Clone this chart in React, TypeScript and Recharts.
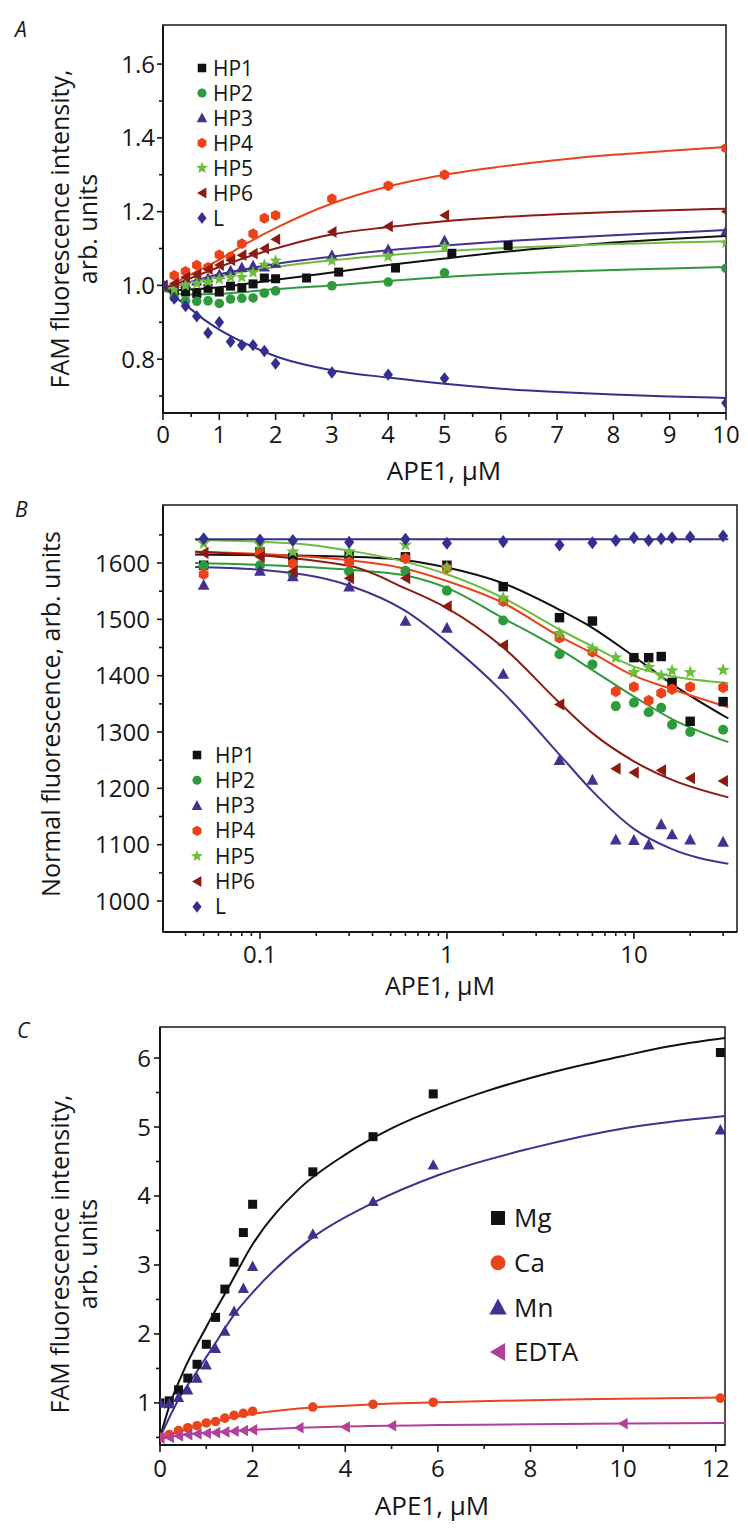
import React from "react";
import { ComposedChart, Scatter, Line, XAxis, YAxis, ReferenceArea } from "recharts";

const FONT = '"Open Sans", "DejaVu Sans", sans-serif';
const INK = "#161616";

// colours
const C_HP1 = "#111111";
const C_HP2 = "#2f9a3b";
const C_HP3 = "#46308f";
const C_HP4 = "#ec4219";
const C_HP5 = "#6dbd3d";
const C_HP6 = "#8c1c12";
const C_L = "#342f8c";
const C_MG = "#111111";
const C_CA = "#e9441d";
const C_MN = "#41308e";
const C_EDTA = "#b0409a";

// ---------- panel A (linear, APE1 0..10 uM)
const aX = [0, 0.2, 0.4, 0.6, 0.8, 1, 1.2, 1.4, 1.6, 1.8, 2, 3, 4, 5, 10];
const aHP1X = [0, 0.2, 0.4, 0.6, 0.8, 1, 1.2, 1.4, 1.6, 1.8, 2, 2.55, 3.12, 4.13, 5.13, 6.13];
const aHP1 = [1.0, 0.985, 0.982, 0.978, 0.992, 0.982, 0.998, 0.994, 1.004, 1.02, 1.018, 1.02, 1.036, 1.047, 1.087, 1.108];
const aHP2 = [1.0, 0.967, 0.958, 0.957, 0.958, 0.951, 0.963, 0.965, 0.966, 0.979, 0.985, 0.999, 1.009, 1.034, 1.046];
const aHP3 = [1.0, 0.998, 1.005, 1.012, 1.02, 1.03, 1.04, 1.049, 1.054, 1.05, 1.06, 1.082, 1.098, 1.122, 1.148];
const aHP4 = [1.0, 1.027, 1.038, 1.055, 1.049, 1.083, 1.078, 1.113, 1.14, 1.182, 1.19, 1.235, 1.27, 1.3, 1.372];
const aHP5 = [1.0, 0.99, 1.0, 1.005, 1.01, 1.017, 1.022, 1.022, 1.035, 1.056, 1.067, 1.067, 1.078, 1.105, 1.115];
const aHP6 = [1.0, 1.005, 1.022, 1.03, 1.044, 1.055, 1.068, 1.082, 1.086, 1.1, 1.125, 1.145, 1.16, 1.19, 1.2];
const aL = [1.0, 0.964, 0.944, 0.916, 0.871, 0.9, 0.847, 0.838, 0.838, 0.822, 0.788, 0.764, 0.758, 0.748, 0.681];

const aFitHP1: [number, number][] = [[0, 0.985], [1, 0.995], [2, 1.015], [3, 1.035], [4, 1.055], [5, 1.073], [6, 1.09], [7, 1.104], [8, 1.116], [9, 1.126], [10, 1.134]];
const aFitHP2: [number, number][] = [[0, 0.985], [0.5, 0.975], [1, 0.977], [1.5, 0.983], [2, 0.99], [3, 1.0], [4, 1.012], [5, 1.023], [6, 1.031], [7, 1.037], [8, 1.042], [9, 1.046], [10, 1.05]];
const aFitHP3: [number, number][] = [[0, 0.99], [0.5, 1.01], [1, 1.03], [2, 1.058], [3, 1.078], [4, 1.095], [5, 1.108], [6, 1.119], [7, 1.128], [8, 1.136], [9, 1.143], [10, 1.15]];
const aFitHP4: [number, number][] = [[0, 0.99], [0.5, 1.03], [1, 1.07], [1.5, 1.115], [2, 1.155], [3, 1.222], [4, 1.268], [5, 1.3], [6, 1.322], [7, 1.34], [8, 1.354], [9, 1.365], [10, 1.375]];
const aFitHP5: [number, number][] = [[0, 0.99], [1, 1.025], [2, 1.05], [3, 1.068], [4, 1.082], [5, 1.093], [6, 1.101], [7, 1.107], [8, 1.112], [9, 1.116], [10, 1.12]];
const aFitHP6: [number, number][] = [[0, 0.99], [0.5, 1.02], [1, 1.05], [1.5, 1.077], [2, 1.1], [3, 1.138], [4, 1.158], [5, 1.174], [6, 1.185], [7, 1.193], [8, 1.199], [9, 1.204], [10, 1.208]];
const aFitL: [number, number][] = [[0, 1.0], [0.25, 0.965], [0.5, 0.935], [0.75, 0.905], [1, 0.88], [1.5, 0.84], [2, 0.808], [3, 0.77], [4, 0.75], [5, 0.733], [6, 0.72], [7, 0.711], [8, 0.704], [9, 0.699], [10, 0.695]];

const aXTicks = [0, 0.5, 1, 1.5, 2, 2.5, 3, 3.5, 4, 4.5, 5, 5.5, 6, 6.5, 7, 7.5, 8, 8.5, 9, 9.5, 10];
const aXLabels = [0, 1, 2, 3, 4, 5, 6, 7, 8, 9, 10];
const aYTicks = [0.7, 0.8, 0.9, 1.0, 1.1, 1.2, 1.3, 1.4, 1.5, 1.6];
const aYLabels = [0.8, 1.0, 1.2, 1.4, 1.6];

// ---------- panel B (log x)
const bX = [0.05, 0.1, 0.15, 0.3, 0.6, 1, 2, 4, 6, 8, 10, 12, 14, 16, 20, 30];
const bHP1X = [0.05, 0.1, 0.15, 0.3, 0.6, 1, 2, 4, 6, 10, 12, 14, 16, 20, 30];
const bHP1 = [1596, 1620, 1610, 1615, 1611, 1596, 1558, 1503, 1497, 1432, 1432, 1434, 1388, 1319, 1354];
const bHP2 = [1595, 1596, 1579, 1585, 1586, 1551, 1498, 1438, 1420, 1346, 1352, 1335, 1343, 1313, 1300, 1304];
const bHP3 = [1561, 1586, 1576, 1558, 1497, 1485, 1403, 1250, 1215, 1109, 1108, 1100, 1136, 1118, 1109, 1105];
const bHP4 = [1580, 1617, 1599, 1602, 1608, 1591, 1532, 1467, 1442, 1372, 1380, 1356, 1369, 1376, 1380, 1379];
const bHP5 = [1635, 1633, 1620, 1620, 1632, 1592, 1538, 1475, 1448, 1432, 1406, 1415, 1400, 1409, 1406, 1410];
const bHP6X = [0.05, 0.1, 0.15, 0.3, 0.6, 1, 2, 4, 8, 10, 14, 20, 30];
const bHP6 = [1618, 1611, 1585, 1573, 1573, 1523, 1454, 1349, 1235, 1228, 1232, 1218, 1213];
const bL = [1643, 1641, 1640, 1637, 1642, 1635, 1638, 1632, 1636, 1640, 1645, 1640, 1643, 1645, 1646, 1648];

const bFitHP1: [number, number][] = [[0.045, 1615], [0.3, 1611], [0.6, 1605], [1, 1592], [2, 1564], [4, 1517], [6, 1485], [10, 1434], [16, 1385], [32, 1324]];
const bFitHP2: [number, number][] = [[0.045, 1600], [0.3, 1588], [0.6, 1578], [1, 1556], [2, 1502], [4, 1447], [6, 1410], [10, 1363], [16, 1323], [32, 1282]];
const bFitHP3: [number, number][] = [[0.045, 1593], [0.1, 1588], [0.3, 1560], [0.6, 1515], [1, 1460], [2, 1370], [4, 1260], [6, 1195], [10, 1128], [16, 1092], [32, 1066]];
const bFitHP4: [number, number][] = [[0.045, 1620], [0.3, 1605], [0.6, 1590], [1, 1568], [2, 1529], [4, 1470], [6, 1440], [10, 1400], [16, 1376], [32, 1344]];
const bFitHP5: [number, number][] = [[0.045, 1641], [0.15, 1635], [0.3, 1622], [0.6, 1602], [1, 1580], [2, 1538], [4, 1482], [6, 1452], [10, 1416], [16, 1399], [32, 1387]];
const bFitHP6: [number, number][] = [[0.045, 1620], [0.3, 1595], [0.6, 1555], [1, 1520], [2, 1450], [4, 1352], [6, 1298], [10, 1248], [16, 1215], [32, 1184]];
const bFitL: [number, number][] = [[0.045, 1642], [32, 1642]];

const bXTicks = [0.04, 0.05, 0.06, 0.07, 0.08, 0.09, 0.1, 0.2, 0.3, 0.4, 0.5, 0.6, 0.7, 0.8, 0.9, 1, 2, 3, 4, 5, 6, 7, 8, 9, 10, 20, 30];
const bXLabels = [0.1, 1, 10];
const bYTicks = [1000, 1050, 1100, 1150, 1200, 1250, 1300, 1350, 1400, 1450, 1500, 1550, 1600, 1650];
const bYLabels = [1000, 1100, 1200, 1300, 1400, 1500, 1600];

// ---------- panel C (metal ions)
const cX = [0, 0.2, 0.4, 0.6, 0.8, 1, 1.2, 1.4, 1.6, 1.8, 2, 3.3, 4.6, 5.9, 12.1];
const cMg = [1.0, 1.03, 1.19, 1.36, 1.56, 1.85, 2.24, 2.65, 3.04, 3.47, 3.88, 4.35, 4.86, 5.48, 6.08];
const cMn = [1.0, 0.99, 1.08, 1.19, 1.36, 1.55, 1.79, 2.04, 2.33, 2.66, 2.98, 3.45, 3.92, 4.45, 4.96];
const cCa = [0.5, 0.54, 0.6, 0.64, 0.67, 0.71, 0.73, 0.78, 0.82, 0.85, 0.88, 0.94, 0.98, 1.01, 1.07];
const cEdtaX = [0, 0.2, 0.4, 0.6, 0.8, 1, 1.2, 1.4, 1.6, 1.8, 2, 3, 4, 5, 10];
const cEdta = [0.49, 0.5, 0.52, 0.54, 0.55, 0.56, 0.57, 0.58, 0.59, 0.6, 0.61, 0.64, 0.65, 0.67, 0.7];

const cFitMg: [number, number][] = [[0, 0.5], [0.2, 0.95], [0.5, 1.45], [1, 2.1], [1.5, 2.7], [2, 3.3], [3, 4.1], [4, 4.6], [5, 4.98], [6, 5.27], [7, 5.51], [8, 5.71], [9, 5.88], [10, 6.03], [11, 6.17], [12.2, 6.29]];
const cFitMn: [number, number][] = [[0, 0.5], [0.4, 1.05], [0.8, 1.46], [1.2, 1.87], [1.6, 2.28], [2, 2.6], [3.3, 3.4], [4.6, 3.9], [6, 4.3], [8, 4.69], [10, 4.98], [12.2, 5.16]];
const cFitCa: [number, number][] = [[0, 0.48], [0.5, 0.6], [1, 0.7], [1.5, 0.78], [2, 0.84], [3, 0.92], [4, 0.96], [5, 0.99], [6, 1.01], [8, 1.04], [10, 1.06], [12.2, 1.08]];
const cFitEdta: [number, number][] = [[0, 0.48], [0.5, 0.54], [1, 0.57], [2, 0.61], [3, 0.64], [4, 0.66], [6, 0.68], [8, 0.69], [10, 0.7], [12.2, 0.71]];

const cXTicks = [0, 1, 2, 3, 4, 5, 6, 7, 8, 9, 10, 11, 12];
const cXLabels = [0, 2, 4, 6, 8, 10, 12];
const cYTicks = [0.5, 1, 1.5, 2, 2.5, 3, 3.5, 4, 4.5, 5, 5.5, 6];
const cYLabels = [1, 2, 3, 4, 5, 6];

const pts = (xs: number[], ys: number[]) => ys.map((y, i) => ({ x: xs[i], y }));
const curve = (p: [number, number][]) => p.map(([x, y]) => ({ x, y }));

type Kind = "square" | "circle" | "triangle" | "hexagon" | "star" | "left" | "diamond";

function Marker({ kind, cx, cy, color, s = 1 }: { kind: Kind; cx: number; cy: number; color: string; s?: number }) {
  if (cx == null || cy == null) return null;
  switch (kind) {
    case "square":
      return <rect x={cx - 4.5 * s} y={cy - 4.5 * s} width={9 * s} height={9 * s} fill={color} />;
    case "circle":
      return <circle cx={cx} cy={cy} r={4.8 * s} fill={color} />;
    case "triangle":
      return <polygon points={`${cx},${cy - 5.8 * s} ${cx + 5.6 * s},${cy + 4.6 * s} ${cx - 5.6 * s},${cy + 4.6 * s}`} fill={color} />;
    case "left":
      return <polygon points={`${cx - 5.2 * s},${cy} ${cx + 4.6 * s},${cy - 5.8 * s} ${cx + 4.6 * s},${cy + 5.8 * s}`} fill={color} />;
    case "diamond":
      return <polygon points={`${cx},${cy - 6.2 * s} ${cx + 4.8 * s},${cy} ${cx},${cy + 6.2 * s} ${cx - 4.8 * s},${cy}`} fill={color} />;
    case "hexagon": {
      const r = 5.4 * s;
      const p = [0, 60, 120, 180, 240, 300].map((a) => {
        const t = ((a - 90) * Math.PI) / 180;
        return `${cx + r * Math.cos(t)},${cy + r * Math.sin(t)}`;
      });
      return <polygon points={p.join(" ")} fill={color} />;
    }
    case "star": {
      const p: string[] = [];
      for (let k = 0; k < 10; k++) {
        const r = (k % 2 === 0 ? 6.6 : 2.8) * s;
        const t = ((k * 36 - 90) * Math.PI) / 180;
        p.push(`${cx + r * Math.cos(t)},${cy + r * Math.sin(t)}`);
      }
      return <polygon points={p.join(" ")} fill={color} />;
    }
  }
  return null;
}

const near = (list: number[], v: number) => list.some((l) => Math.abs(l - v) < 1e-6);

function XTick(props: any) {
  const { x, y, payload, labels, fmt, dy } = props;
  const v = payload.value;
  const major = near(labels, v);
  return (
    <g>
      <line x1={x} x2={x} y1={y} y2={y + (major ? 7 : 4)} stroke={INK} strokeWidth={1.6} />
      {major && (
        <text x={x} y={y + dy} textAnchor="middle" fontFamily={FONT} fontSize={24} fill={INK}>
          {fmt(v)}
        </text>
      )}
    </g>
  );
}

function YTick(props: any) {
  const { x, y, payload, labels, fmt, gap } = props;
  const v = payload.value;
  const major = near(labels, v);
  return (
    <g>
      <line x1={x} x2={x - (major ? 6 : 4)} y1={y} y2={y} stroke={INK} strokeWidth={1.6} />
      {major && (
        <text x={x - gap} y={y + 8.5} textAnchor="end" fontFamily={FONT} fontSize={24} fill={INK}>
          {fmt(v)}
        </text>
      )}
    </g>
  );
}

type Series = { name: string; kind: Kind; color: string; data: { x: number; y: number }[]; fit: { x: number; y: number }[] };

const seriesA: Series[] = [
  { name: "HP1", kind: "square", color: C_HP1, data: pts(aHP1X, aHP1), fit: curve(aFitHP1) },
  { name: "HP2", kind: "circle", color: C_HP2, data: pts(aX, aHP2), fit: curve(aFitHP2) },
  { name: "HP3", kind: "triangle", color: C_HP3, data: pts(aX, aHP3), fit: curve(aFitHP3) },
  { name: "HP4", kind: "hexagon", color: C_HP4, data: pts(aX, aHP4), fit: curve(aFitHP4) },
  { name: "HP5", kind: "star", color: C_HP5, data: pts(aX, aHP5), fit: curve(aFitHP5) },
  { name: "HP6", kind: "left", color: C_HP6, data: pts(aX, aHP6), fit: curve(aFitHP6) },
  { name: "L", kind: "diamond", color: C_L, data: pts(aX, aL), fit: curve(aFitL) },
];

const seriesB: Series[] = [
  { name: "HP1", kind: "square", color: C_HP1, data: pts(bHP1X, bHP1), fit: curve(bFitHP1) },
  { name: "HP2", kind: "circle", color: C_HP2, data: pts(bX, bHP2), fit: curve(bFitHP2) },
  { name: "HP3", kind: "triangle", color: C_HP3, data: pts(bX, bHP3), fit: curve(bFitHP3) },
  { name: "HP4", kind: "hexagon", color: C_HP4, data: pts(bX, bHP4), fit: curve(bFitHP4) },
  { name: "HP5", kind: "star", color: C_HP5, data: pts(bX, bHP5), fit: curve(bFitHP5) },
  { name: "HP6", kind: "left", color: C_HP6, data: pts(bHP6X, bHP6), fit: curve(bFitHP6) },
  { name: "L", kind: "diamond", color: C_L, data: pts(bX, bL), fit: curve(bFitL) },
];

const seriesC: Series[] = [
  { name: "Mg", kind: "square", color: C_MG, data: pts(cX, cMg), fit: curve(cFitMg) },
  { name: "Ca", kind: "circle", color: C_CA, data: pts(cX, cCa), fit: curve(cFitCa) },
  { name: "Mn", kind: "triangle", color: C_MN, data: pts(cX, cMn), fit: curve(cFitMn) },
  { name: "EDTA", kind: "left", color: C_EDTA, data: pts(cEdtaX, cEdta), fit: curve(cFitEdta) },
];

function drawSeries(list: Series[], size: number) {
  const out: React.ReactNode[] = [];
  list.forEach((s) => {
    out.push(
      <Line key={s.name + "-fit"} data={s.fit} dataKey="y" type="monotone" dot={false} activeDot={false}
        stroke={s.color} strokeWidth={2} isAnimationActive={false} />
    );
  });
  list.forEach((s) => {
    out.push(
      <Scatter key={s.name + "-pts"} data={s.data} dataKey="y" isAnimationActive={false}
        shape={(p: any) => <Marker kind={s.kind} cx={p.cx} cy={p.cy} color={s.color} s={size} />} />
    );
  });
  return out;
}

const axisLine = { stroke: INK, strokeWidth: 2 };
const Y_W = 70;
const X_H = 50;

function Panel({ top, height, plotTop, plotBottom, plotLeft, plotRight, xDomain, yDomain, xTicks, yTicks, xLab, yLab, fmtX, fmtY, dy, gap, log, series, size }: any) {
  const margin = { top: plotTop, bottom: height - plotBottom - X_H, left: plotLeft - Y_W, right: 748 - plotRight };
  return (
    <div style={{ position: "absolute", left: 0, top, width: 748, height }}>
      <ComposedChart width={748} height={height} margin={margin}>
        <XAxis dataKey="x" type="number" scale={log ? "log" : "linear"} domain={xDomain} allowDataOverflow
          ticks={xTicks} interval={0} height={X_H} tickSize={0} tickMargin={0} tickLine={false}
          axisLine={axisLine} tick={<XTick labels={xLab} fmt={fmtX} dy={dy} />} />
        <YAxis type="number" domain={yDomain} allowDataOverflow ticks={yTicks} interval={0} width={Y_W}
          tickSize={0} tickMargin={0} tickLine={false} axisLine={axisLine}
          tick={<YTick labels={yLab} fmt={fmtY} gap={gap} />} />
        <ReferenceArea x1={xDomain[0]} x2={xDomain[1]} y1={yDomain[0]} y2={yDomain[1]} fill="none"
          fillOpacity={0} stroke={INK} strokeWidth={1.5} ifOverflow="visible" />
        {drawSeries(series, size)}
      </ComposedChart>
    </div>
  );
}

function LegendBlock({ items, x, y0, step, tx, font, size }: { items: Series[]; x: number; y0: number; step: number; tx: number; font: number; size: number }) {
  return (
    <g>
      {items.map((s, i) => (
        <g key={s.name}>
          <Marker kind={s.kind} cx={x} cy={y0 + i * step} color={s.color} s={size} />
          <text x={tx} y={y0 + i * step + font * 0.36} fontFamily={FONT} fontSize={font} fill={INK}>
            {s.name}
          </text>
        </g>
      ))}
    </g>
  );
}

const fmt1 = (v: number) => v.toFixed(1);
const fmtN = (v: number) => String(v);

export default function App() {
  return (
    <div style={{ position: "absolute", left: 0, top: 0, width: 748, height: 1536, background: "#fff" }}>
      <Panel top={0} height={480} plotTop={25} plotBottom={413} plotLeft={163} plotRight={726}
        xDomain={[0, 10]} yDomain={[0.654, 1.706]} xTicks={aXTicks} yTicks={aYTicks}
        xLab={aXLabels} yLab={aYLabels} fmtX={fmtN} fmtY={fmt1} dy={30} gap={8} log={false}
        series={seriesA} size={1} />
      <Panel top={480} height={520} plotTop={25} plotBottom={452} plotLeft={163} plotRight={737}
        xDomain={[0.0303, 35.6]} yDomain={[945, 1703]} xTicks={bXTicks} yTicks={bYTicks}
        xLab={bXLabels} yLab={bYLabels} fmtX={fmtN} fmtY={fmtN} dy={31} gap={13} log={true}
        series={seriesB} size={1.05} />
      <Panel top={1000} height={536} plotTop={27} plotBottom={445} plotLeft={160} plotRight={725}
        xDomain={[0, 12.2]} yDomain={[0.39, 6.45]} xTicks={cXTicks} yTicks={cYTicks}
        xLab={cXLabels} yLab={cYLabels} fmtX={fmtN} fmtY={fmtN} dy={32} gap={9} log={false}
        series={seriesC} size={1} />

      <svg width={748} height={1536} style={{ position: "absolute", left: 0, top: 0, pointerEvents: "none" }}>
        <g fontFamily={FONT} fill={INK}>
          <text x={15} y={37} fontSize={21} fontStyle="italic">A</text>
          <text x={15} y={517} fontSize={21} fontStyle="italic">B</text>
          <text x={17} y={1038} fontSize={21} fontStyle="italic">C</text>

          <text transform="translate(69,229) rotate(-90)" textAnchor="middle" fontSize={25}>FAM fluorescence intensity,</text>
          <text transform="translate(97,229) rotate(-90)" textAnchor="middle" fontSize={25}>arb. units</text>
          <text transform="translate(60,714) rotate(-90)" textAnchor="middle" fontSize={25}>Normal fluorescence, arb. units</text>
          <text transform="translate(69,1254) rotate(-90)" textAnchor="middle" fontSize={25}>FAM fluorescence intensity,</text>
          <text transform="translate(97,1254) rotate(-90)" textAnchor="middle" fontSize={25}>arb. units</text>

          <text x={444} y={480} textAnchor="middle" fontSize={26}>APE1, μM</text>
          <text x={440} y={995} textAnchor="middle" fontSize={25}>APE1, μM</text>
          <text x={432} y={1515} textAnchor="middle" fontSize={26}>APE1, μM</text>
        </g>
        <LegendBlock items={seriesA} x={202} y0={68} step={25} tx={213} font={21} size={0.95} />
        <LegendBlock items={seriesB} x={197} y0={755} step={25.3} tx={215} font={21} size={0.95} />
        <LegendBlock items={seriesC} x={498} y0={1218} step={44.7} tx={514} font={26} size={1.55} />
      </svg>
    </div>
  );
}
